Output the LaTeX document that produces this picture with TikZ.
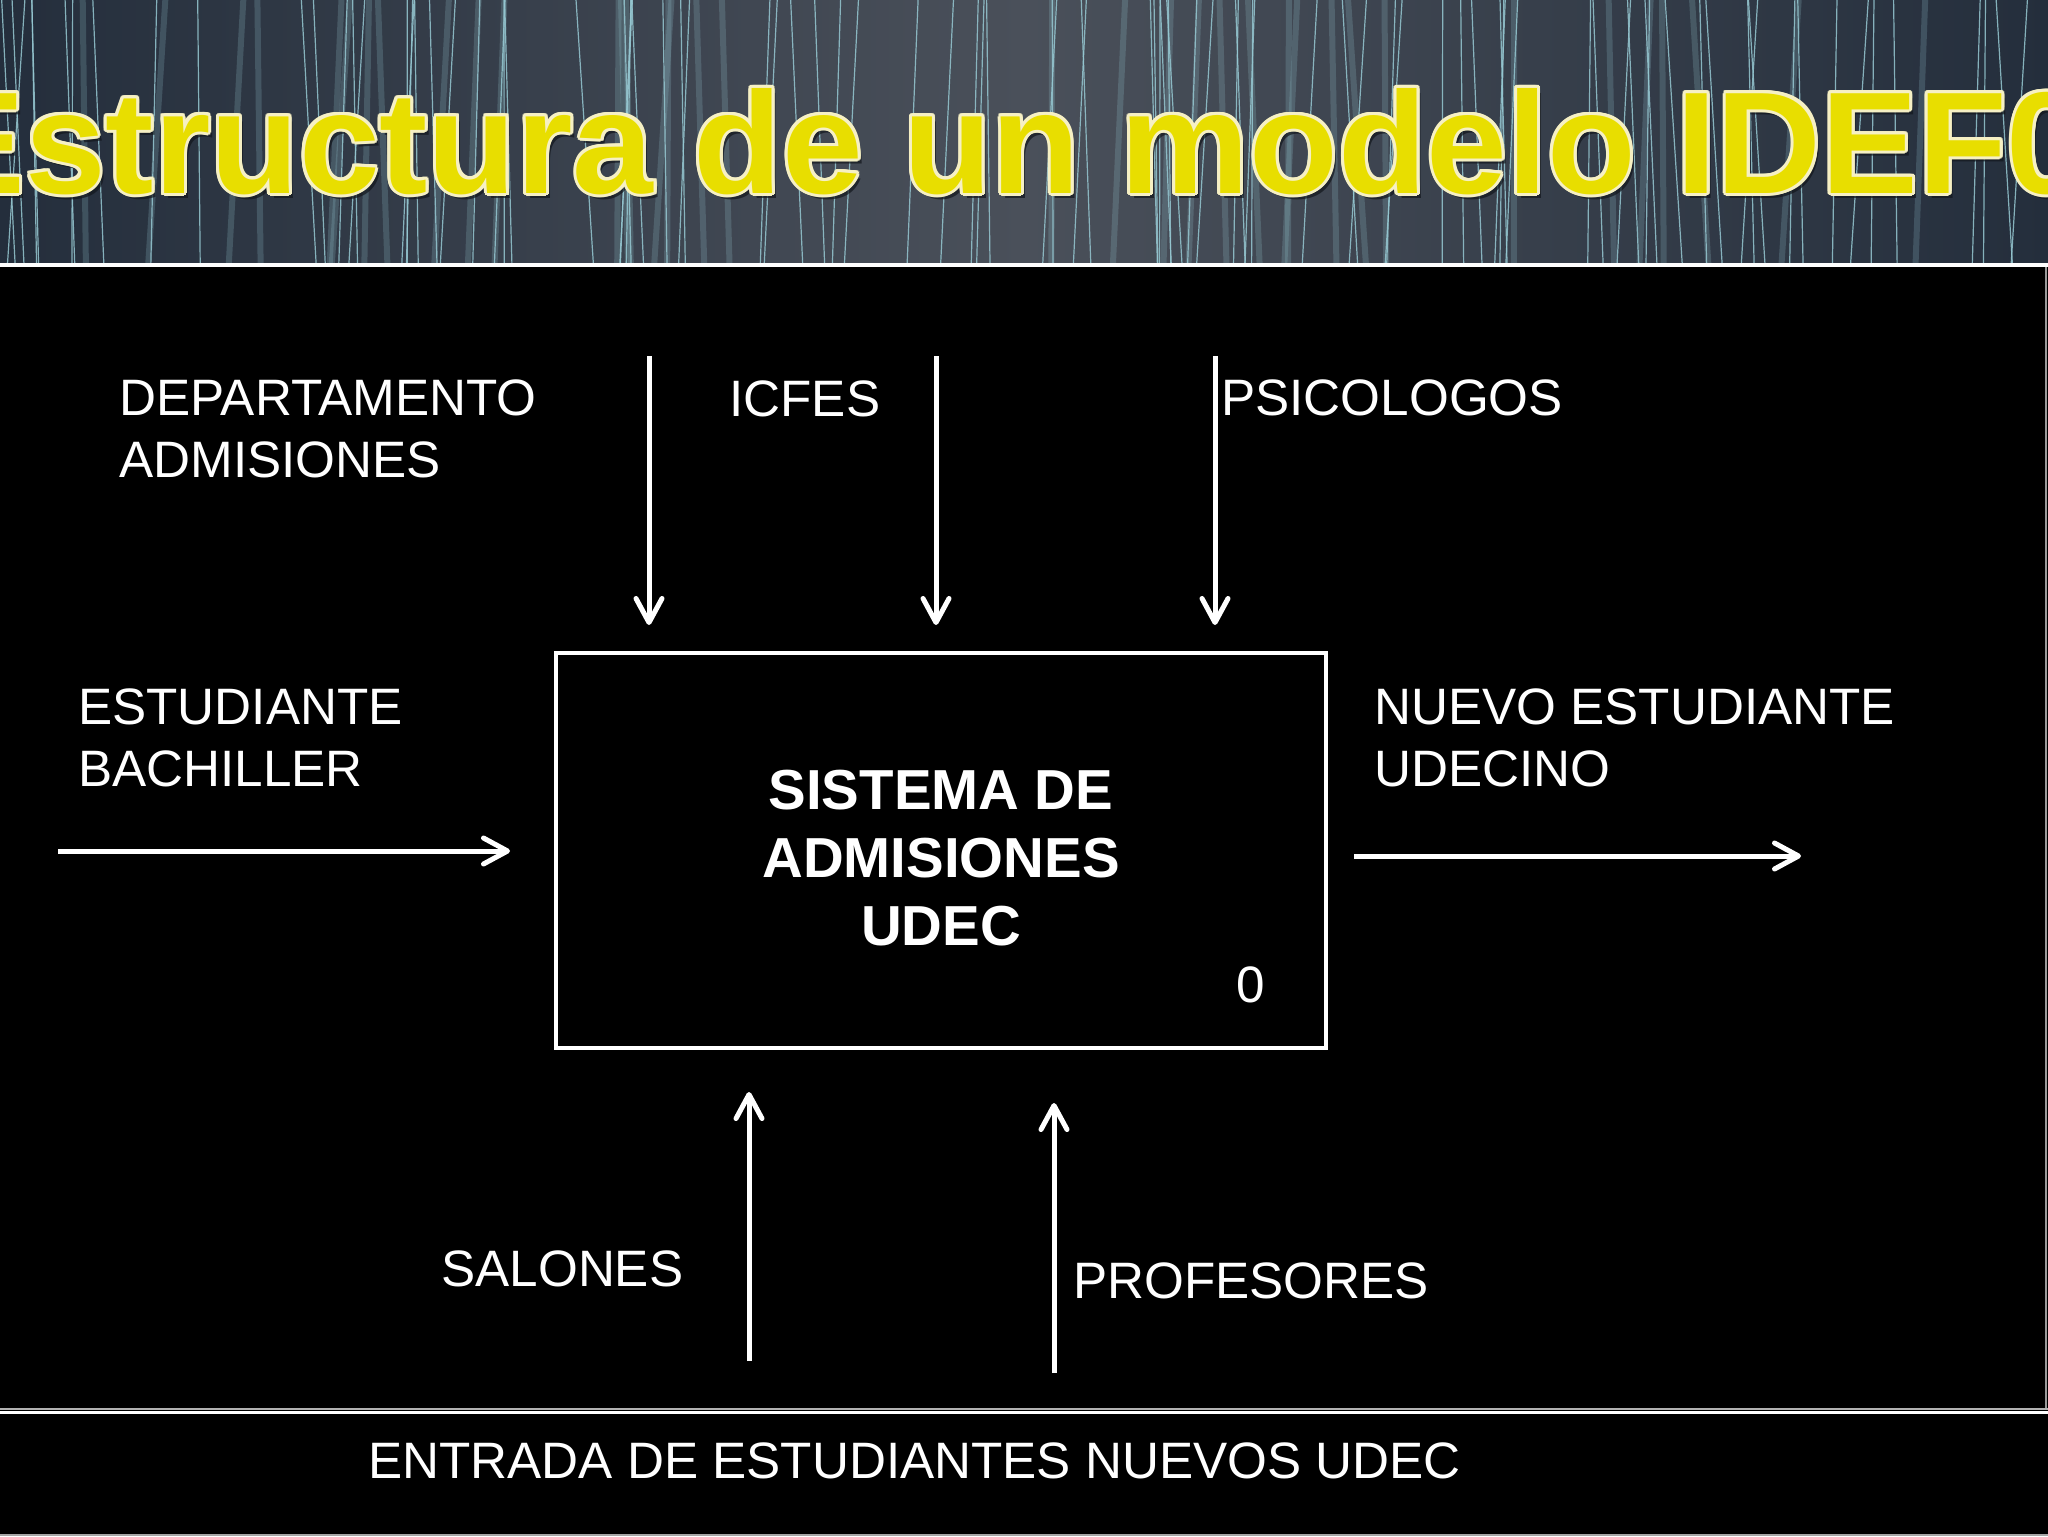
\documentclass[tikz,border=0pt]{standalone}
\usepackage{fontspec}
\setmainfont{Liberation Sans}
\usetikzlibrary{arrows.meta}
\definecolor{hdrdark}{RGB}{36,46,60}
\definecolor{hdrmid}{RGB}{74,80,90}
\definecolor{streak}{RGB}{150,200,210}
\definecolor{ttlyellow}{RGB}{232,222,0}
\definecolor{ttledge}{RGB}{246,240,196}
\definecolor{ttlshadow}{RGB}{18,22,28}
\begin{document}
\begin{tikzpicture}[x=0.5pt,y=-0.5pt,
  lbl/.style={anchor=base west, inner sep=0pt, text=white, font=\fontsize{25.6}{31}\selectfont, align=left},
  boxlbl/.style={anchor=base, inner sep=0pt, text=white, font=\fontsize{28.2}{34}\selectfont\bfseries, align=center},
  ttl/.style={anchor=base west, inner sep=0pt, font=\fontsize{72.5}{80}\selectfont\bfseries},
  arr/.style={draw=white, line width=2.5pt, -{Straight Barb[length=12pt,width=13pt,round]}},
  procbox/.style={draw=white, line width=2pt, minimum width=385pt, minimum height=197.5pt, inner sep=0pt}]
\useasboundingbox (0,0) rectangle (2048,1536);
% header
\shade[left color=hdrdark, right color=hdrdark, middle color=hdrmid] (0,0) rectangle (2048,265);
\begin{scope}
\clip (0,0) rectangle (2048,265);
\pgfmathsetseed{11}
\foreach \i in {1,...,36}{
  \pgfmathsetmacro{\xa}{rnd*2048}
  \pgfmathsetmacro{\xb}{\xa+(rnd-0.5)*40}
  \draw[streak, line width=3pt, opacity=0.22] (\xa,0) -- (\xb,265);
}
\foreach \i in {1,...,95}{
  \pgfmathsetmacro{\xa}{rnd*2048}
  \pgfmathsetmacro{\xb}{\xa+(rnd-0.5)*36}
  \draw[streak, line width=0.6pt, opacity=0.85] (\xa,0) -- (\xb,265);
}
\node[ttl, text=ttlshadow, opacity=0.7] (ttlsh) at (-68,198) {Estructura de un modelo IDEF0};
\foreach \a [count=\k] in {0,22.5,...,337.5}{
  \node[ttl, text=ttledge] (ttlo\k) at ({-72+3*cos(\a)},{193+3*sin(\a)}) {Estructura de un modelo IDEF0};
}
\node[ttl, text=ttlyellow] (title) at (-72,193) {Estructura de un modelo IDEF0};
\end{scope}
% body
\fill[black] (0,267) rectangle (2048,1536);
\draw[white, line width=2pt] (0,265) -- (2048,265);
\draw[gray!80, line width=1pt] (2046,267) -- (2046,1410);
\draw[gray!60, line width=1pt] (0,1408.5) -- (2048,1408.5);
\draw[white, line width=1.5pt] (0,1412) -- (2048,1412);
\draw[gray!70, line width=1pt] (0,1534.5) -- (2048,1534.5);
% process box
\node[procbox] (box) at (941,850.5) {};
\node[boxlbl] (boxtitle) at (941,945) {SISTEMA DE\\ADMISIONES\\UDEC};
\node[lbl] (boxnum) at (1236,1002) {0};
% labels (base anchor = last line)
\node[lbl] (ctl1) at (119,477) {DEPARTAMENTO\\ADMISIONES};
\node[lbl] (ctl2) at (729,416) {ICFES};
\node[lbl] (ctl3) at (1221,415) {PSICOLOGOS};
\node[lbl] (inp) at (78,786) {ESTUDIANTE\\BACHILLER};
\node[lbl] (outp) at (1374,786) {NUEVO ESTUDIANTE\\UDECINO};
\node[lbl] (mec1) at (441,1286) {SALONES};
\node[lbl] (mec2) at (1073,1298) {PROFESORES};
\node[lbl] (caption) at (368,1478) {ENTRADA DE ESTUDIANTES NUEVOS UDEC};
% arrow end points
\coordinate (t1s) at (649,356);  \coordinate (t1e) at (649,625);
\coordinate (t2s) at (936,356);  \coordinate (t2e) at (936,625);
\coordinate (t3s) at (1215,356); \coordinate (t3e) at (1215,625);
\coordinate (ls) at (58,851);    \coordinate (le) at (510,851);
\coordinate (rs) at (1354,856);  \coordinate (re) at (1801,856);
\coordinate (b1s) at (749,1361); \coordinate (b1e) at (749,1092);
\coordinate (b2s) at (1054,1373); \coordinate (b2e) at (1054,1103);
\draw[arr] (t1s) -- (t1e);
\draw[arr] (t2s) -- (t2e);
\draw[arr] (t3s) -- (t3e);
\draw[arr] (ls) -- (le);
\draw[arr] (rs) -- (re);
\draw[arr] (b1s) -- (b1e);
\draw[arr] (b2s) -- (b2e);
\end{tikzpicture}
\end{document}
